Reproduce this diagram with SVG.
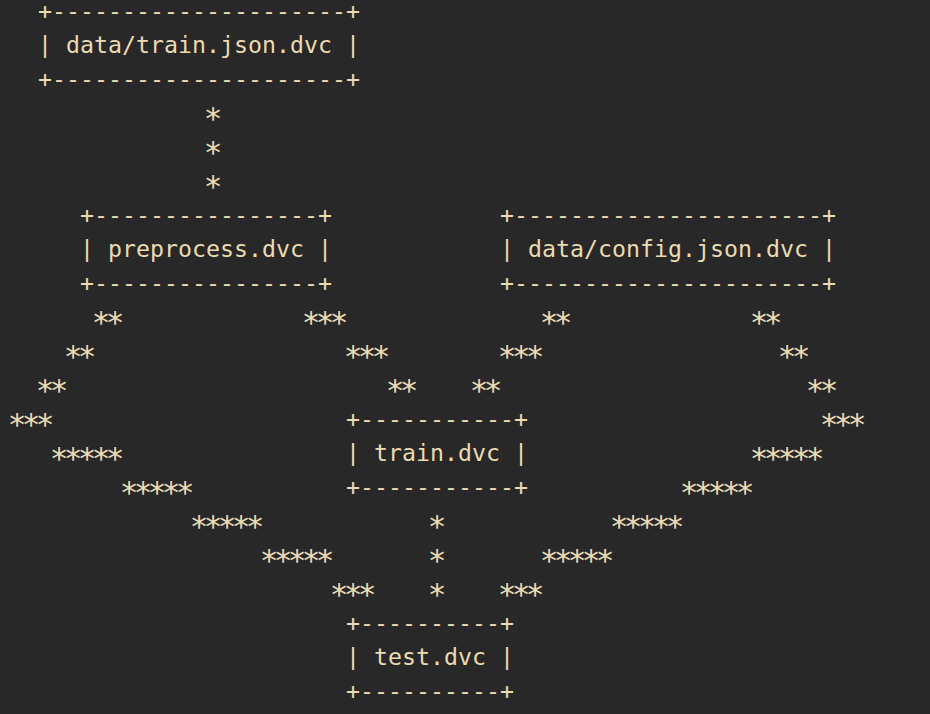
<svg xmlns="http://www.w3.org/2000/svg" width="930" height="714" viewBox="0 0 930 714">
<style>
text{font-family:"DejaVu Sans Mono","Liberation Mono",monospace;font-size:23.25px;fill:#ebdbb2;white-space:pre}
.s{font-size:31px;letter-spacing:-4.67px}
</style>
<rect width="930" height="714" fill="#282828"/>
<g id="node-train-json">
<text x="38" y="18.5">+---------------------+</text>
<text x="38" y="52.5">| data/train.json.dvc |</text>
<text x="38" y="86.5">+---------------------+</text>
</g>
<g id="node-preprocess">
<text x="80" y="222.5">+----------------+</text>
<text x="80" y="256.5">| preprocess.dvc |</text>
<text x="80" y="290.5">+----------------+</text>
</g>
<g id="node-config-json">
<text x="500" y="222.5">+----------------------+</text>
<text x="500" y="256.5">| data/config.json.dvc |</text>
<text x="500" y="290.5">+----------------------+</text>
</g>
<g id="node-train">
<text x="346" y="426.5">+-----------+</text>
<text x="346" y="460.5">| train.dvc |</text>
<text x="346" y="494.5">+-----------+</text>
</g>
<g id="node-test">
<text x="346" y="630.5">+----------+</text>
<text x="346" y="664.5">| test.dvc |</text>
<text x="346" y="698.5">+----------+</text>
</g>
<g id="connectors" transform="translate(-2.3,8.3)">
<text class="s" x="206" y="120.5">*</text>
<text class="s" x="206" y="154.5">*</text>
<text class="s" x="206" y="188.5">*</text>
<text class="s" x="94" y="324.5">**</text>
<text class="s" x="304" y="324.5">***</text>
<text class="s" x="542" y="324.5">**</text>
<text class="s" x="752" y="324.5">**</text>
<text class="s" x="66" y="358.5">**</text>
<text class="s" x="346" y="358.5">***</text>
<text class="s" x="500" y="358.5">***</text>
<text class="s" x="780" y="358.5">**</text>
<text class="s" x="38" y="392.5">**</text>
<text class="s" x="388" y="392.5">**</text>
<text class="s" x="472" y="392.5">**</text>
<text class="s" x="808" y="392.5">**</text>
<text class="s" x="10" y="426.5">***</text>
<text class="s" x="822" y="426.5">***</text>
<text class="s" x="52" y="460.5">*****</text>
<text class="s" x="752" y="460.5">*****</text>
<text class="s" x="122" y="494.5">*****</text>
<text class="s" x="682" y="494.5">*****</text>
<text class="s" x="192" y="528.5">*****</text>
<text class="s" x="430" y="528.5">*</text>
<text class="s" x="612" y="528.5">*****</text>
<text class="s" x="262" y="562.5">*****</text>
<text class="s" x="430" y="562.5">*</text>
<text class="s" x="542" y="562.5">*****</text>
<text class="s" x="332" y="596.5">***</text>
<text class="s" x="430" y="596.5">*</text>
<text class="s" x="500" y="596.5">***</text>
</g>
</svg>
